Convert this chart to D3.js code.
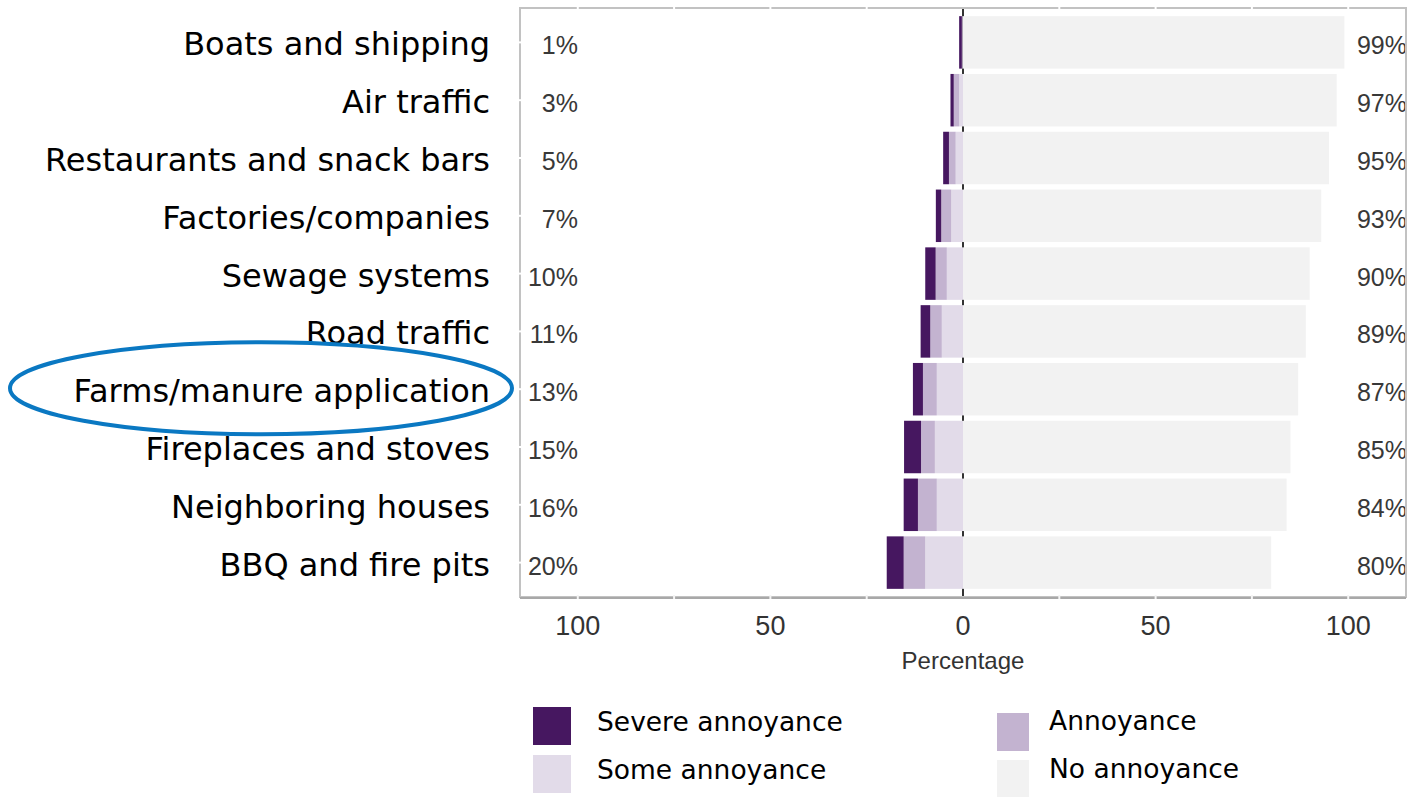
<!DOCTYPE html>
<html>
<head>
<meta charset="utf-8">
<script src="https://cdn.jsdelivr.net/npm/d3@7"></script>
<style>
  body { margin: 0; background: #fff; }
  svg { display: block; }
</style>
</head>
<body>
<div id="chart"></div>
<script>
// 数据
var categories = ["Boats and shipping", "Air traffic", "Restaurants and snack bars", "Factories/companies",
    "Sewage systems", "Road traffic", "Farms/manure application", "Fireplaces and stoves",
    "Neighboring houses", "BBQ and fire pits"]
var severe    = [0.7, 0.85, 1.5, 1.4, 2.7, 2.5, 2.6, 4.4, 3.7, 4.4]
var annoyance = [0.15, 1.4, 1.75, 2.6, 2.9, 3.0, 3.6, 3.6, 4.9, 5.6]
var some      = [0.15, 1.0, 1.9, 3.05, 4.2, 5.5, 6.8, 7.3, 6.8, 9.8]
var none      = [99, 97, 95, 93, 90, 89, 87, 85, 84, 80]
var leftLabels  = ["1%", "3%", "5%", "7%", "10%", "11%", "13%", "15%", "16%", "20%"]
var rightLabels = ["99%", "97%", "95%", "93%", "90%", "89%", "87%", "85%", "84%", "80%"]
var xTicks = [-100, -50, 0, 50, 100]
var legendItems = ["Severe annoyance", "Annoyance", "Some annoyance", "No annoyance"]
var highlight = "Farms/manure application"

var colors = { severe: "#461760", annoyance: "#c3b3d0", some: "#e2dbe9", none: "#f2f2f2" }

var width = 1412, height = 797
var svg = d3.select("#chart").append("svg")
    .attr("width", width)
    .attr("height", height)

// 注意 top 是 window 的保留属性，不能用
var pLeft = 520, pRight = 1406, pTop = 8, pBottom = 597

var x = d3.scaleLinear().domain([-115, 115]).range([pLeft, pRight])
var y = d3.scaleBand().domain(categories).range([pTop, pBottom])
    .paddingInner(0.092).paddingOuter(0.141)

// 每行的堆叠数据，从0往左依次是 some -> annoyance -> severe
var rows = categories.map(function (c, i) {
    var s1 = some[i], s2 = s1 + annoyance[i], s3 = s2 + severe[i]
    return {
        name: c,
        segs: [
            { x0: -s1, x1: 0, color: colors.some },
            { x0: -s2, x1: -s1, color: colors.annoyance },
            { x0: -s3, x1: -s2, color: colors.severe },
            { x0: 0, x1: none[i], color: colors.none }
        ],
        lab: leftLabels[i], rlab: rightLabels[i]
    }
})

// 零线 (在条形后面，只在间隙露出来)
svg.append("line")
    .attr("x1", x(0)).attr("x2", x(0))
    .attr("y1", pTop).attr("y2", pBottom)
    .attr("stroke", "#333").attr("stroke-width", 2)

var g = svg.append("g")
var rowG = g.selectAll(".row")
    .data(rows)
    .enter()
    .append("g")
    .attr("class", "row")

rowG.selectAll("rect")
    .data(d => d.segs.map(s => Object.assign({ name: d.name }, s)))
    .enter()
    .append("rect")
    .attr("x", d => x(d.x0))
    .attr("width", d => x(d.x1) - x(d.x0))
    .attr("y", d => y(d.name))
    .attr("height", y.bandwidth())
    .attr("fill", d => d.color)

// 百分比文字 (左边右对齐)
rowG.append("text")
    .text(d => d.lab)
    .attr("x", 578)
    .attr("text-anchor", "end")
    .attr("y", d => y(d.name) + y.bandwidth() / 2 + 12)
    .attr("font-family", "Liberation Sans, Arial, sans-serif")
    .attr("font-size", 25)
    .attr("fill", "#383838")

rowG.append("text")
    .text(d => d.rlab)
    .attr("x", 1407)
    .attr("text-anchor", "end")
    .attr("y", d => y(d.name) + y.bandwidth() / 2 + 12)
    .attr("font-family", "Liberation Sans, Arial, sans-serif")
    .attr("font-size", 25)
    .attr("fill", "#383838")

// 外框
svg.append("rect")
    .attr("x", pLeft).attr("y", pTop)
    .attr("width", pRight - pLeft).attr("height", pBottom - pTop)
    .attr("fill", "none")
    .attr("stroke", "#c2c2c2")
    .attr("stroke-width", 2)
svg.append("line")
    .attr("x1", pLeft).attr("x2", pRight)
    .attr("y1", pBottom + 1).attr("y2", pBottom + 1)
    .attr("stroke", "#a8a8a8").attr("stroke-width", 2)

// 刻度小白线
var minor = d3.range(-100, 101, 25)
svg.selectAll(".tickTop")
    .data(minor.filter(v => v != 0))
    .enter()
    .append("line")
    .attr("x1", d => x(d)).attr("x2", d => x(d))
    .attr("y1", pTop - 2).attr("y2", pTop + 2)
    .attr("stroke", "#fff").attr("stroke-width", 2)
svg.selectAll(".tickBot")
    .data(minor.filter(v => v != 0))
    .enter()
    .append("line")
    .attr("x1", d => x(d)).attr("x2", d => x(d))
    .attr("y1", pBottom - 2).attr("y2", pBottom + 2)
    .attr("stroke", "#f4f4f4").attr("stroke-width", 2)
svg.selectAll(".tickLeft")
    .data(categories)
    .enter()
    .append("line")
    .attr("x1", pLeft - 2).attr("x2", pLeft + 2)
    .attr("y1", d => y(d) + y.bandwidth() / 2).attr("y2", d => y(d) + y.bandwidth() / 2)
    .attr("stroke", "#fff").attr("stroke-width", 2)

// x轴标签
svg.selectAll(".xlab")
    .data(xTicks)
    .enter()
    .append("text")
    .text(d => Math.abs(d))
    .attr("x", d => x(d))
    .attr("y", 635)
    .attr("text-anchor", "middle")
    .attr("font-family", "Liberation Sans, Arial, sans-serif")
    .attr("font-size", 27)
    .attr("fill", "#333")

svg.append("text")
    .text("Percentage")
    .attr("x", x(0))
    .attr("y", 669)
    .attr("text-anchor", "middle")
    .attr("font-family", "Liberation Sans, Arial, sans-serif")
    .attr("font-size", 24)
    .attr("fill", "#333")

// 类别文字
svg.selectAll(".cat")
    .data(categories)
    .enter()
    .append("text")
    .text(d => d)
    .attr("x", 490)
    .attr("y", d => y(d) + y.bandwidth() / 2 + 13)
    .attr("text-anchor", "end")
    .attr("font-family", "DejaVu Sans, Verdana, sans-serif")
    .attr("font-size", 32)
    .attr("fill", "#000")

// 蓝色椭圆标注
svg.append("ellipse")
    .attr("cx", 261)
    .attr("cy", y(highlight) + y.bandwidth() / 2 - 1)
    .attr("rx", 251)
    .attr("ry", 46)
    .attr("fill", "none")
    .attr("stroke", "#0a78c2")
    .attr("stroke-width", 4)

// 图例
var legendColors = [colors.severe, colors.annoyance, colors.some, colors.none]
var legendPos = [
    { sx: 533, sy: 707, sw: 38, tx: 597, ty: 731 },
    { sx: 997, sy: 713, sw: 32, tx: 1049, ty: 730 },
    { sx: 533, sy: 755, sw: 38, tx: 597, ty: 779 },
    { sx: 997, sy: 760, sw: 32, tx: 1049, ty: 778 }
]
var lg = svg.selectAll(".legend")
    .data(legendItems)
    .enter()
    .append("g")
lg.append("rect")
    .attr("x", (d, i) => legendPos[i].sx)
    .attr("y", (d, i) => legendPos[i].sy)
    .attr("width", (d, i) => legendPos[i].sw)
    .attr("height", 38)
    .attr("fill", (d, i) => legendColors[i])
lg.append("text")
    .text(d => d)
    .attr("x", (d, i) => legendPos[i].tx)
    .attr("y", (d, i) => legendPos[i].ty)
    .attr("font-family", "DejaVu Sans, Verdana, sans-serif")
    .attr("font-size", 26.5)
    .attr("fill", "#000")
</script>
</body>
</html>
